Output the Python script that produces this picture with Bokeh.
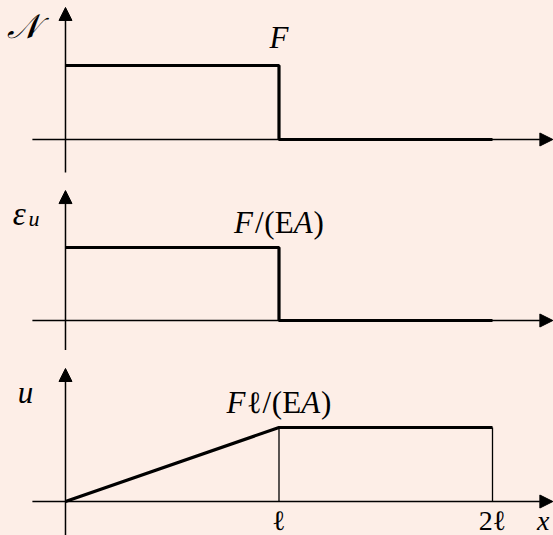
from bokeh.plotting import figure
from bokeh.layouts import column
from bokeh.models import Range1d, Arrow, NormalHead
from bokeh.core.properties import value
from bokeh.embed import file_html
from bokeh.resources import INLINE

# Bar split at x = ℓ, in units of ℓ
x_nodes = [0, 1, 2]
# Normal force N(x) per segment, in units of F
n_seg = [1, 0]
# Strain eps_u(x) per segment, in units of F/(EA)
eps_seg = [1, 0]
# Displacement u(x) at the nodes, in units of Fℓ/(EA)
u_nodes = [0, 1, 1]

tick_pos = [1, 2]
tick_labels = ["ℓ", "2ℓ"]

BG = "#fdeee7"
W = 553
X0, X1 = -0.3044, 2.2857
SERIF = value("Liberation Serif")


def panel(height, y_lo, y_hi):
    p = figure(width=W, height=height, x_range=Range1d(X0, X1),
               y_range=Range1d(y_lo, y_hi), output_backend="svg",
               toolbar_location=None, min_border=0)
    p.axis.visible = False
    p.grid.visible = False
    p.outline_line_color = None
    p.background_fill_color = BG
    p.border_fill_color = BG
    return p


def axes(p, y_bottom, y_top):
    # horizontal x-axis with arrow on the right
    p.add_layout(Arrow(x_start=-0.155, y_start=0, x_end=X1 - 0.003, y_end=0,
                       line_color="black", line_width=1.3,
                       end=NormalHead(size=13, fill_color="black", line_color="black")))
    # vertical axis with arrow on top
    p.add_layout(Arrow(x_start=0, y_start=y_bottom, x_end=0, y_end=y_top,
                       line_color="black", line_width=1.5,
                       end=NormalHead(size=13, fill_color="black", line_color="black")))


def step_xy(seg):
    xs, ys = [], []
    for i, v in enumerate(seg):
        xs += [x_nodes[i], x_nodes[i + 1]]
        ys += [v, v]
    return xs, ys


def txt(p, x, y, s, size, italic=True, align="center", x_offset=0):
    p.text(x=[x], y=[y], text=[s], text_font=SERIF,
           text_font_style="italic" if italic else "normal",
           text_font_size=f"{size}px", text_align=align, text_baseline="middle",
           x_offset=x_offset)


def formula(p, xc, yc, pieces, size):
    # pieces: (text, italic, advance in em); laid out left to right, centred on xc
    total = sum(w for _, _, w in pieces) * size
    off = -total / 2
    for s, it, w in pieces:
        txt(p, xc, yc, s, size, italic=it, align="left", x_offset=off)
        off += w * size


# --- N(x) ---
p1 = panel(180, -0.554, 1.878)
axes(p1, -0.446, 1.784)
xs, ys = step_xy(n_seg)
p1.line(xs, ys, line_color="black", line_width=3.2)
txt(p1, -0.199, 1.527, "𝒩", 34)
txt(p1, x_nodes[1], 1.378, "F", 31)

# --- eps_u(x) ---
p2 = panel(170, -0.411, 1.918)
axes(p2, -0.411, 1.78)
xs, ys = step_xy(eps_seg)
p2.line(xs, ys, line_color="black", line_width=3.2)
txt(p2, -0.216, 1.455, "ε", 33)
txt(p2, -0.148, 1.40, "u", 22)
formula(p2, x_nodes[1], 1.342,
        [("F", True, 0.68), ("/", False, 0.30), ("(", False, 0.34),
         ("E", False, 0.61), ("A", True, 0.64), (")", False, 0.34)], 31)

# --- u(x) ---
p3 = panel(185, -0.459, 2.04)
axes(p3, -0.459, 1.797)
for xv, uv in zip(x_nodes[1:], u_nodes[1:]):
    p3.line([xv, xv], [0, uv], line_color="black", line_width=1.3)
p3.line(x_nodes, u_nodes, line_color="black", line_width=3.2)
txt(p3, -0.187, 1.466, "u", 31)
formula(p3, x_nodes[1], 1.34,
        [("F", True, 0.66), ("ℓ", False, 0.50), ("/", False, 0.30), ("(", False, 0.34),
         ("E", False, 0.61), ("A", True, 0.64), (")", False, 0.34)], 31)
for xv, lab in zip(tick_pos, tick_labels):
    txt(p3, xv, -0.26, lab, 28, italic=False)
txt(p3, 2.238, -0.25, "x", 28)

layout = column(p1, p2, p3, spacing=0)
layout.styles = {"background-color": BG}
open("out.html", "w").write(file_html(layout, INLINE))
